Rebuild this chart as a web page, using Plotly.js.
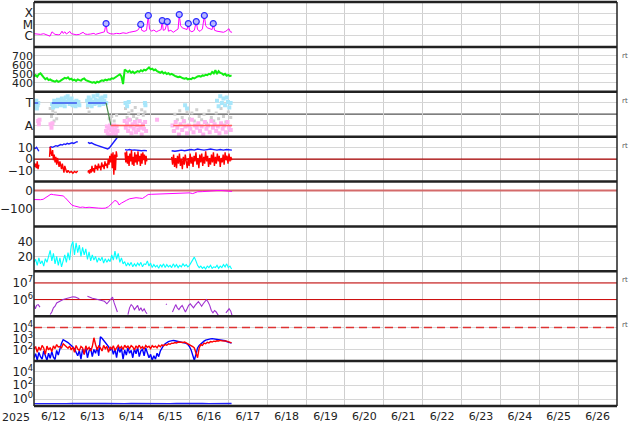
<!DOCTYPE html>
<html><head><meta charset="utf-8">
<script src="https://cdn.plot.ly/plotly-3.0.1.min.js"></script>
<style>html,body{margin:0;padding:0;background:#fff}#chart{width:634px;height:424px}</style>
</head><body><div id="chart"></div>
<script>
// ---------- DATA (hours since 2025-06-12 00:00 UT) ----------
const T0 = Date.UTC(2025,5,12);
const HOUR = 3600000;
const dayLabelFormat = '%-m/%-d';
const yearLabel = '2025';

// Panel 1: X-ray flux (W/m^2)
const xrayH = [0,2,4,6,8,9.9,11.1,12,13,15,16.1,17.3,18,19.1,20,22.2,23,24.1,26,28,30.3,31.5,33,35,37,38,40,42,43.5,44.5,45.2,47,49,51,53,55,57,59,61,63,64.5,65.9,66.5,68,69.5,70.6,71.3,72.5,74,75.5,77,78.5,79.2,79.8,81,82.3,83,84.5,86,87.5,89,89.7,90.5,91.5,93,94.5,95.3,96,97.5,99,100.2,101,102.5,104,105.2,106,107,108.7,110,110.7,111.5,113,115,117,118.5,120.4,121.2,122.3];
const xrayF = [1.5e-6,1.4e-6,1.3e-6,1.5e-6,1.2e-6,9e-7,2.2e-6,1.8e-6,1.3e-6,1.2e-6,1.3e-6,2.5e-6,1.6e-6,2.2e-6,1.4e-6,2.4e-6,1.5e-6,1.4e-6,1.2e-6,1.3e-6,2.0e-6,1.4e-6,1.3e-6,1.4e-6,1.6e-6,1.3e-6,1.5e-6,1.7e-6,2.2e-6,1.2e-5,2.0e-6,1.5e-6,1.4e-6,1.6e-6,1.5e-6,1.8e-6,1.6e-6,2.0e-6,2.2e-6,2.6e-6,3.5e-6,1.0e-5,3.0e-6,2.4e-6,3.0e-6,6.2e-5,4.0e-6,2.5e-6,3.2e-6,2.2e-6,2.8e-6,3.5e-6,2.2e-5,3.0e-6,3.5e-6,1.8e-5,2.5e-6,3.0e-6,2.0e-6,2.6e-6,4.0e-6,7.6e-5,8e-6,5e-6,4e-6,3.5e-6,1.2e-5,3e-6,2.2e-6,3.0e-6,1.8e-5,3.5e-6,2.4e-6,4e-6,6.2e-5,8e-6,5e-6,4e-6,3.5e-6,1.2e-5,3e-6,2.5e-6,2.2e-6,2.0e-6,2.5e-6,4.2e-6,2.2e-6,2.0e-6];
const flareH = [44.5,65.9,70.6,79.2,82.3,89.7,95.3,100.2,105.2,110.7];
const flareF = [1.2e-5,1.0e-5,6.2e-5,2.2e-5,1.8e-5,7.6e-5,1.2e-5,1.8e-5,6.2e-5,1.2e-5];
const xrayTicks = [1e-4,1e-5,1e-6];
const xrayTickText = ['X','M','C'];

// Panel 2: solar wind speed (km/s), hourly from h=0
const speed = [472,485,468,495,505,478,460,440,452,430,
438,425,420,412,425,410,418,428,440,455,
448,460,438,445,428,435,420,438,430,425,
442,448,430,425,418,410,402,408,398,412,
405,418,428,422,435,428,440,436,450,445,
458,470,488,495,470,385,548,530,520,535,
512,525,508,520,530,522,540,528,545,538,
560,572,550,558,540,548,530,520,512,525,
505,515,498,508,492,500,485,478,470,462,
468,455,450,445,452,438,445,440,455,448,
462,470,475,468,482,478,490,485,500,495,
520,505,540,498,530,510,505,490,500,478,
488,475,482];
const speedTicks = [400,500,600,700];

// Panel 3: IMF sector (T = +1, A = -1)
const lbH = [0.2,0.6,1,1.4,1.8,2.2,2.6, 11.2,11.8,12.5,13,13.6,14.2,14.8,15.4,16,16.6,17.2,17.8,18.4,19,19.6,20.2,20.8,21.4,22,22.6,23.2,23.8,24.4,25,25.6,26.2,26.8,27.4,28, 32.8,33.3,33.8,34.4,35,35.6,36.2,36.8,37.4,38,38.6,39.2,39.8,40.4,41,41.6,42.2,42.8,43.4,44,44.6, 56.5,57.5,58.5, 68.5,68.8, 93.3,94.5, 113,114,115,116,117,118,119,119.8,120.6,121.4];
const lbV = [1.1,0.6,0.9,1.2,0.5,0.8,1.0, 0.9,0.6,1.2,0.8,1.0,0.7,1.3,0.9,1.1,0.8,1.4,1.0,1.2,0.7,1.5,1.1,1.6,1.3,0.9,1.2,1.4,0.8,1.1,1.0,0.7,1.2,0.9,1.1,0.8, 1.2,0.8,1.5,1.0,1.3,0.7,1.1,1.6,0.9,1.3,1.0,1.7,1.2,0.8,1.4,1.1,1.5,0.9,1.2,1.6,1.0, 1.0,0.7,1.1, 1.0,0.8, 0.8,0.5, 1.2,0.7,1.6,1.0,1.4,0.8,1.5,1.1,0.6,1.0];
const pkH = [2.6,3.0,3.4, 10.2,10.8,11.4, 44.5,45,45.5,46,46.5,47,47.5,48,48.5,49,49.5,50,50.5,51,51.5, 56,56.7,57.4,58.1,58.8,59.5,60.2,60.9,61.6,62.3,63,63.7,64.4,65.1,65.8,66.5,67.2,67.9,68.6,69.2, 76, 85.5,86.5,87.5,88.5,89.5,90.5,91.5,92.5,93.5,94.5,95.5,96.5,97.5,98.5,99.5,100.5,101.5,102.5,103.5,104.5,105.5,106.5,107.5,108.5,109.5,110.5,111.5,112.5,113.5,114.5,115.5,116.5,117.5,118.5,119.5,120.5,121.5];
const pkV = [-0.6,-0.9,-0.5, -0.9,-1.2,-0.8, -1.5,-1.1,-1.7,-1.3,-1.9,-1.0,-1.4,-1.8,-1.2,-1.6,-1.0,-1.4,-1.8,-1.1,-1.5, -0.6,-1.2,-0.8,-1.5,-0.5,-1.1,-1.7,-0.9,-1.3,-0.7,-1.6,-1.0,-1.4,-0.6,-1.2,-1.8,-0.9,-1.3,-0.7,-1.5, -0.5, -1.0,-1.5,-0.7,-1.2,-1.8,-0.9,-1.4,-0.6,-1.1,-1.7,-1.0,-1.3,-0.5,-1.6,-1.0,-1.2,-0.8,-1.5,-1.1,-1.8,-0.7,-1.3,-1.0,-1.6,-0.6,-1.2,-0.9,-1.5,-1.1,-1.7,-0.8,-1.3,-1.0,-1.6,-0.7,-1.2,-1.4];
const gyH = [10,10.8,11.6,12.4,13.2,14, 33,34, 46.5,48,49.5,51, 56.5,57.5,58.5,59.5,60.5,61.5,62.5,63.5,64.5,65.5,66.5,67.5,68.5, 86,87,88.5,90,91.5,93,94.5,96,97.5,99,100.5,102,103.5,105,106.5,108,109.5,111,112.5,114,115.5,117,118.5,120,121.5];
const gyV = [0.5,-0.2,0.3,-0.6,0.1,-0.4, 0.6,0.2, -0.4,-0.2,-0.6,-0.1, 0.5,-0.3,0.1,-0.5,0.3,-0.2,0.6,-0.4,0.0,-0.6,0.4,-0.1,0.2, -1.5,0.0,-0.5,0.3,-0.3,-0.7,0.2,-0.4,0.1,-0.6,0.4,-0.2,-0.5,0.0,-0.8,0.3,-0.3,-0.6,0.1,-0.4,0.5,-0.2,-0.7,0.2,-0.3];
const towardH = [0,2.6,null,11,26.5,null,33.4,44.5];
const towardV = [1,1,null,1,1,null,1,1];
const switchH = [44.5,47.5];
const switchV = [1,-1];
const awayH = [47.5,68.5,null,86,122.3];
const awayV = [-1,-1,null,-1,-1];
const sectorTicks = [1,-1];
const sectorTickText = ['T','A'];

// Panel 4: Bt (blue) and Bz (red), nT
const btH = [0,0.8,1.6,2.4,3,null, 9.6,10.5,11.5,12.5,13.5,14.5,15.5,16.5,17.5,18.5,19.5,20.5,21.5,22.5,23.5,24.5,25.5,26.5,27,null, 33.3,34.5,35.5,36.5,37.5,38.5,39.5,40.5,41.5,42.5,43.5,44.5,45.5,46.5,47.5,48.5,49.5,50.5,51.3,null, 56.2,57.5,59,60.5,62,63.5,65,66.5,68,69.7,null, 85,87,89,91,93,95,97,99,101,103,105,107,109,111,113,115,117,119,121,122.2];
const btV = [10,9.5,10.5,9,7,null, 10,11,10.5,11.5,12,11.5,12.5,13,12.5,13.5,13,14,13.5,14,14.5,14,15,15.5,15,null, 15,14,14.5,13.5,13,12.5,12,11.5,11,10.5,10,9.5,9,10,12,14,16,17.5,19,null, 8.5,8,8.5,8,8.2,7.8,8,7.5,7.8,7.5,null, 7.5,7,7.5,8,7.5,8,8.5,8,9,8.5,8,8.5,9,8.5,8,8.5,8,8.5,8,8];
const bzH = [0,0.5,1,1.5,2,2.5,3,null, 9.6,10,10.5,11,11.5,12,12.5,13,13.5,14,14.5,15,15.5,16,16.5,17,17.5,18,18.5,19,19.5,20,20.5,21,22,23,24,25,26,27,null, 33.3,33.8,34.3,34.8,35.3,35.8,36.3,36.8,37.3,37.8,38.3,38.8,39.3,39.8,40.3,40.8,41.3,41.8,42.3,42.8,43.3,43.8,44.3,44.8,45.3,45.8,46.3,46.8,47.3,47.8,48.3,48.8,49.3,49.8,50.3,50.8,51.3,null, 56.2,56.7,57.2,57.7,58.2,58.7,59.2,59.7,60.2,60.7,61.2,61.7,62.2,62.7,63.2,63.7,64.2,64.7,65.2,65.7,66.2,66.7,67.2,67.7,68.2,68.7,69.2,69.7,null, 85,85.6,86.2,86.8,87.4,88,88.6,89.2,89.8,90.4,91,91.6,92.2,92.8,93.4,94,94.6,95.2,95.8,96.4,97,97.6,98.2,98.8,99.4,100,100.6,101.2,101.8,102.4,103,103.6,104.2,104.8,105.4,106,106.6,107.2,107.8,108.4,109,109.6,110.2,110.8,111.4,112,112.6,113.2,113.8,114.4,115,115.6,116.2,116.8,117.4,118,118.6,119.2,119.8,120.4,121,121.6,122.2];
const bzV = [-3,-7,-4,-8,-2,-9,-5,null, 2,11,6,3,8,-1,4,-3,2,-5,1,-4,-7,-2,-6,-9,-4,-8,-12,-6,-10,-11,-12,-10,-12,-11,-12.5,-11,-12,-10.5,null, -12,-10,-13,-9,-12,-6,-11,-8,-12,-5,-9,-6,-10,-4,-8,-6,-10,-3,-7,-5,-9,-2,-6,-4,-8,0,-5,3,-3,5,-8,6,-14,4,-10,7,2,null, 6,-3,7,-4,3,-6,5,-2,8,-5,2,-6,6,-3,4,-5,7,-2,3,-6,5,-4,6,-1,4,-5,3,-2,null, 2,-5,4,-7,1,-8,3,-4,5,-6,0,-9,2,-5,4,-3,-8,1,-6,5,-4,2,-7,3,-2,6,-5,1,-8,4,-3,5,-6,2,-4,7,-2,3,-7,1,-5,4,-3,6,-6,2,-4,5,-2,3,-7,1,-3,4,-5,6,-1,3,-4,5,-2,2,-1];
const bTicks = [10,0,-10];

// Panel 5: Dst (nT)
const dstH = [0,2,4,5.6,7.5,9.5,10.5,12,13.5,15,16.5,18,19.5,21,22.5,23.5,25,27,28.5,30,32,34,36,38,40,42,44,46,48,50,51.5,52.5,54,55.5,57,59,61,63,65,67,69,70.5,72.5,75,77,79,81,84,87,90,93,96,98,99.5,101,104,107,110,113,116,119,121,122.3];
const dstV = [-50,-52,-51,-49,-38,-24,-20,-23,-25,-23,-26,-30,-42,-58,-75,-82,-86,-90,-94,-92,-95,-93,-96,-95,-98,-99,-98,-90,-72,-55,-62,-80,-70,-60,-55,-46,-43,-40,-42,-44,-32,-22,-21,-20,-17,-16,-18,-16,-14,-13,-12,-13,-17,-12,-7,-6,-3,-1,0,0,-1,-2,-5];
const dstTicks = [0,-100];

// Panel 6: density (hourly from h=0)
const dens = [12,16,8,18,10,14,7,17,12,20,
28,14,24,10,20,8,18,6,14,22,
12,25,15,34,40,22,38,25,35,20,
32,22,30,16,26,14,22,15,20,12,
18,14,19,11,17,12,16,13,22,15,
27,16,24,12,18,10,13,7,11,8,
12,6,10,7,11,8,12,6,10,9,
14,7,11,5,9,6,8,4,9,6,
10,5,9,6,8,5,10,6,9,5,
8,6,10,7,9,6,8,12,16,19,
14,8,5,7,4,6,3,7,5,8,
4,6,5,8,4,7,5,9,6,10,
5,7,3];
const densTicks = [20,40];

// Panel 7: electron flux
const elecH = [0,0.8,1.6,2.6,3.7,null, 10,11,12,13,14,15,16.5,18,19.5,21,22.5,24,25.5,27,28,null, 33,34.5,36,37.5,39,40.5,42,43.5,45,46,47,48.5,49.5,50.5,51.5,null, 58,59,60,61,62,63,64,65,66,67,68,69,69.8,null, 81.5,82,null, 85.5,86.5,87.5,88.5,89.5,90.5,91.5,92.5,93.5,94.5,95.5,96.5,97.5,98.5,99.5,100.5,101.5,102.5,103.5,104.5,105.5,106.5,107.5,108.5,109.5,110.5,111.5,112.5,113.5,114.5,null, 118.5,119.5,120.5,121.5,122.3];
const elecV = [5.0e5,2.8e5,4.5e5,5.0e5,3.5e5,null, 1.26e5,1.8e5,3.2e5,4.0e5,6.3e5,7.1e5,8.9e5,1.0e6,1.12e6,1.26e6,1.41e6,1.48e6,1.41e6,1.26e6,1.12e6,null, 1.58e6,1.32e6,1.2e6,1.12e6,1.05e6,9.5e5,8.9e5,7.9e5,5.6e5,7.1e5,8.9e5,1.41e6,6.3e5,2.8e5,1.8e5,null, 1.26e5,3.2e5,5.0e5,4.0e5,2.5e5,3.5e5,4.5e5,2.2e5,3.2e5,2.0e5,2.8e5,1.8e5,1.4e5,null, 5.6e5,5.0e5,null, 1.8e5,3.5e5,5.0e5,3.2e5,2.5e5,3.5e5,4.5e5,2.8e5,1.8e5,2.8e5,4.5e5,5.6e5,4.0e5,3.2e5,4.5e5,6.3e5,7.6e5,5.6e5,4.0e5,5.6e5,7.9e5,1.0e6,7.1e5,4.5e5,2.2e5,1.6e5,2.2e5,1.8e5,1.26e5,1.0e5,null, 1.6e5,2.2e5,2.8e5,2.0e5,1.1e5];
const elecLevels = [1e7,1e6];

// Panel 8: particle flux, hourly from h=0 (blue and red channels)
const p8Blue = [20,45,12,60,25,15,80,30,12,50,18,70,22,14,90,35,
150,400,800,700,550,
450,350,250,180,120,60,
30,90,15,120,40,160,20,80,140,25,110,50,180,30,
1500,1100,700,450,
300,200,90,150,
40,120,20,180,60,140,15,100,35,160,50,90,20,130,45,170,25,80,110,30,150,60,
20,40,12,30,15,50,25,80,
150,250,350,450,550,600,650,700,650,600,
620,580,550,500,450,380,300,200,
100,25,12,40,150,
250,350,450,600,750,850,900,950,1000,
950,900,900,850,800,750,700,650,
550,500,450,400];
const p8Red = [120,200,60,180,90,250,150,40,220,100,160,70,230,130,300,180,
200,150,350,250,180,
140,220,100,180,60,250,120,90,200,150,40,230,110,170,80,200,1200,300,100,220,
150,80,250,130,200,60,180,120,230,90,170,250,140,200,110,260,160,220,130,240,
180,100,230,150,260,140,200,120,250,170,210,130,240,180,220,150,260,190,280,230,
300,260,350,320,400,380,450,420,500,480,520,460,500,420,380,300,250,200,150,60,
20,150,300,250,400,350,480,420,550,500,600,560,650,620,700,650,680,620,600,550,480,420];
const p8Level = 1e4;

// Panel 9: proton flux, every 4 h from h=0 (last at 122)
const p9H = [0,4,8,12,16,20,24,28,32,36,40,44,48,52,56,60,64,68,72,76,80,84,88,92,96,100,104,108,112,116,120,122];
const p9V = [0.22,0.21,0.23,0.22,0.21,0.22,0.23,0.22,0.21,0.22,0.23,0.24,0.22,0.23,0.22,0.24,0.23,0.22,0.23,0.24,0.23,0.22,0.23,0.24,0.23,0.22,0.23,0.22,0.23,0.24,0.23,0.23];

// ---------- BUILD ----------
const tx = hs => hs.map(h => h === null ? null : T0 + h*HOUR);
const idxH = arr => arr.map((_, i) => i);
const fullSpan = [T0, T0 + 15*24*HOUR];
const FONT = 'DejaVu Sans, sans-serif';

function line(xh, y, ya, color, width, extra) {
  return Object.assign({type:'scatter', mode:'lines', x:tx(xh), y:y, xaxis:'x', yaxis:ya,
    line:{color:color, width:width}, connectgaps:false, hoverinfo:'skip'}, extra||{});
}
function pts(xh, y, ya, color, size) {
  return {type:'scatter', mode:'markers', x:tx(xh), y:y, xaxis:'x', yaxis:ya,
    marker:{color:color, size:size, symbol:'square', line:{width:0}}, hoverinfo:'skip'};
}
function hline(val, ya, color, width, dash) {
  return {type:'scatter', mode:'lines', x:fullSpan, y:[val,val], xaxis:'x', yaxis:ya,
    line:{color:color, width:width, dash:dash||'solid'}, hoverinfo:'skip'};
}

const data = [
  line(xrayH, xrayF, 'y', '#ff00ff', 1),
  {type:'scatter', mode:'markers', x:tx(flareH), y:flareF, xaxis:'x', yaxis:'y',
   marker:{symbol:'circle', size:6, color:'#b8b8ff', line:{color:'#2a2aff', width:1.2}}, hoverinfo:'skip'},
  line(idxH(speed), speed, 'y2', '#11ee11', 2),
  pts(gyH, gyV, 'y3', '#cfcfcf', 3),
  pts(lbH, lbV, 'y3', '#a8e6fa', 4),
  pts(pkH, pkV, 'y3', '#ffb4f0', 4),
  line(towardH, towardV, 'y3', '#3a55ee', 1.5),
  line(switchH, switchV, 'y3', '#4a8a4a', 1.2),
  line(awayH, awayV, 'y3', '#ff5a5a', 1.5),
  hline(0, 'y4', '#aa0000', 1.2),
  line(btH, btV, 'y4', '#1a1aff', 1.4),
  line(bzH, bzV, 'y4', '#ff0000', 1.4),
  hline(0, 'y5', '#d46a6a', 2),
  line(dstH, dstV, 'y5', '#ff00ff', 1),
  line(idxH(dens), dens, 'y6', '#00ffff', 1.1),
  hline(elecLevels[0], 'y7', '#cc0000', 1),
  hline(elecLevels[1], 'y7', '#cc0000', 1),
  line(elecH, elecV, 'y7', '#a030d0', 1.1),
  hline(p8Level, 'y8', '#dd3333', 1.5, '8px,5px'),
  line(idxH(p8Blue), p8Blue, 'y8', '#0000ff', 1.4),
  line(idxH(p8Red), p8Red, 'y8', '#ff0000', 1.4),
  line(p9H, p9V, 'y9', '#2222ff', 1.3)
];

const N = 9;
function yax(i, opts) {
  return Object.assign({
    domain:[(N-i)/N, (N-i+1)/N], anchor:'x', showgrid:true, gridcolor:'#d6d6d6', gridwidth:1,
    zeroline:false, showline:false, ticks:'', fixedrange:true,
    tickfont:{family:FONT, size:12, color:'#222'}, tickmode:'array'
  }, opts);
}
const sup = e => '10<sup>' + e + '</sup>';

const layout = {
  width:634, height:424,
  margin:{l:34, r:17, t:2, b:18, pad:0},
  paper_bgcolor:'#fff', plot_bgcolor:'#fff',
  showlegend:false,
  xaxis:{type:'date', range:['2025-06-12','2025-06-27'], tick0:'2025-06-12', dtick:86400000,
    tickformat:dayLabelFormat, ticklabelmode:'period', showgrid:true, gridcolor:'#cfcfcf',
    zeroline:false, showline:false, ticks:'', anchor:'y9', fixedrange:true, ticklabelstandoff:2,
    tickfont:{family:FONT, size:11, color:'#222'}},
  yaxis:  yax(1, {type:'log', range:[-7,-3], tickvals:xrayTicks, ticktext:xrayTickText}),
  yaxis2: yax(2, {range:[300,800], tickvals:speedTicks, ticktext:speedTicks.map(String), tickfont:{family:FONT, size:11, color:'#222'}}),
  yaxis3: yax(3, {range:[-2,2], tickvals:sectorTicks, ticktext:sectorTickText}),
  yaxis4: yax(4, {range:[-20,20], tickvals:bTicks, ticktext:['10','0','\u221210']}),
  yaxis5: yax(5, {range:[-200,50], tickvals:dstTicks, ticktext:['0','\u2212100']}),
  yaxis6: yax(6, {range:[0,60], tickvals:densTicks, ticktext:densTicks.map(String)}),
  yaxis7: yax(7, {type:'log', range:[5,7.7], tickvals:[1e6,1e7], ticktext:[sup(6),sup(7)]}),
  yaxis8: yax(8, {type:'log', range:[1,5], tickvals:[1e2,1e3,1e4], ticktext:[sup(2),sup(3),sup(4)]}),
  yaxis9: yax(9, {type:'log', range:[-1,5.5], tickvals:[1,1e2,1e4], ticktext:[sup(0),sup(2),sup(4)]}),
  shapes:[],
  annotations:[]
};

for (let k = 0; k <= N; k++) {
  layout.shapes.push({type:'line', xref:'paper', yref:'paper', x0:0, x1:1, y0:k/N, y1:k/N,
    line:{color:'#222', width:2.5}});
}
layout.shapes.push({type:'line', xref:'paper', yref:'paper', x0:0, x1:0, y0:0, y1:1, line:{color:'#222', width:1.5}});
layout.shapes.push({type:'line', xref:'paper', yref:'paper', x0:1, x1:1, y0:0, y1:1, line:{color:'#222', width:1.5}});
layout.shapes.push({type:'line', xref:'paper', yref:'y3', x0:0, x1:1, y0:0, y1:0, line:{color:'#555', width:1.2}, layer:'below'});

['y2','y3','y4','y7','y8'].forEach(ya => {
  layout.annotations.push({xref:'paper', yref:ya+' domain', x:1, y:0.8, xanchor:'left', yanchor:'middle',
    xshift:3, text:'rt', showarrow:false, font:{family:FONT, size:7, color:'#555'}});
});
layout.annotations.push({xref:'paper', yref:'paper', x:0, y:0, xanchor:'right', yanchor:'top',
  xshift:-2, yshift:-3, text:yearLabel, showarrow:false, font:{family:FONT, size:11, color:'#222'}});

Plotly.newPlot('chart', data, layout, {displayModeBar:false, staticPlot:true});
</script></body></html>
